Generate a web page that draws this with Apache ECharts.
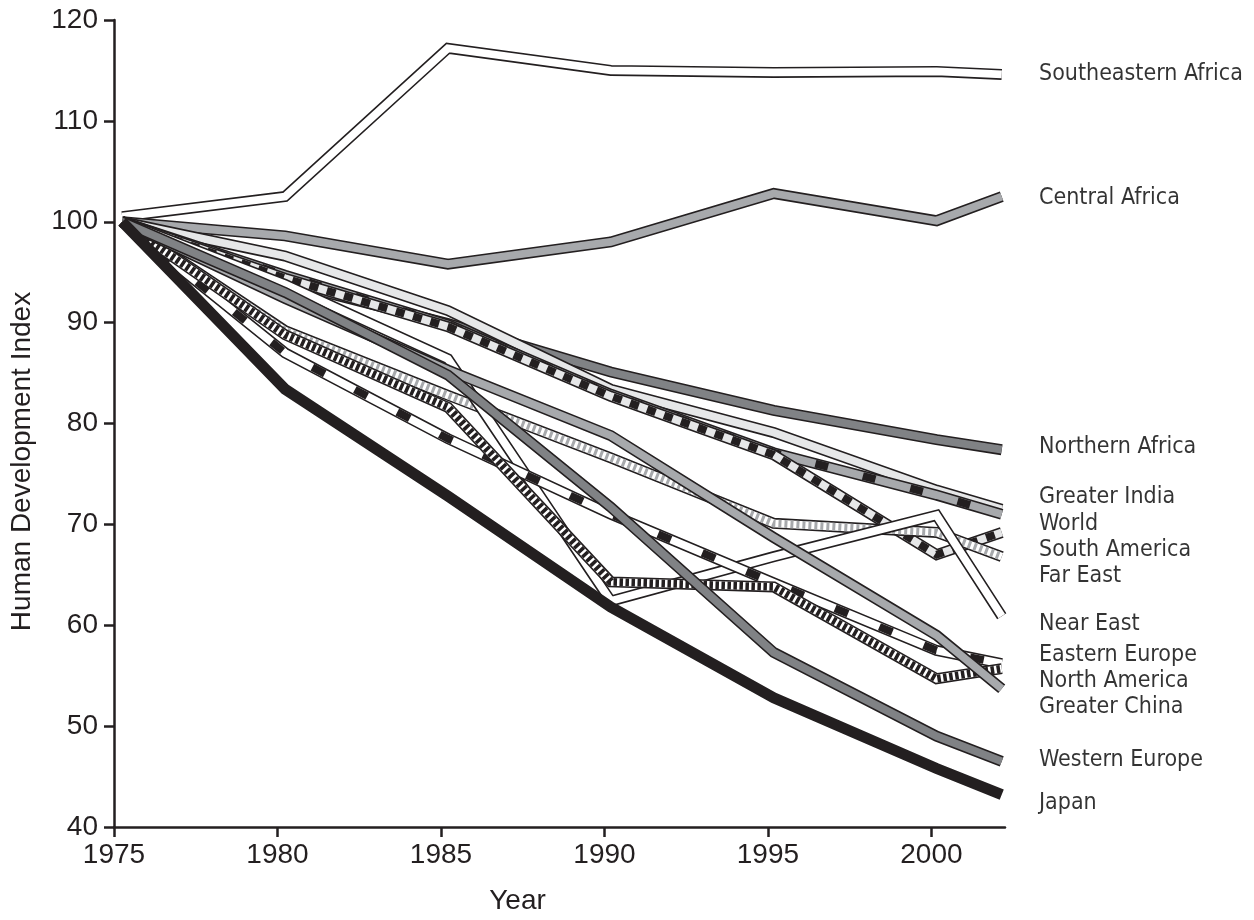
<!DOCTYPE html>
<html>
<head>
<meta charset="utf-8">
<title>Human Development Index</title>
<script src="https://cdn.jsdelivr.net/npm/echarts@6/dist/echarts.min.js"></script>
<style>
    html, body { margin: 0; padding: 0; background: #fff; }
    #chart { width: 1254px; height: 920px; }
</style>
</head>
<body>
<div id="chart"></div>
<script>
// 年份
var years = [1975, 1980, 1985, 1990, 1995, 2000, 2002];

var southeasternAfrica = [100.5, 102.5, 117.2, 115.0, 114.8, 114.9, 114.6];
var centralAfrica = [100, 98.6, 95.8, 98.0, 102.8, 100.1, 102.5];
var northernAfrica = [100, 94.0, 89.9, 85.1, 81.3, 78.4, 77.4];
var greaterIndia = [100, 96.6, 91.2, 83.4, 79.1, 73.4, 71.5];
var world = [100, 94.7, 89.8, 82.9, 77.1, 72.9, 71.0];
var southAmerica = [100, 94.4, 89.6, 82.7, 76.9, 67.0, 69.2];
var farEast = [100, 89.2, 82.8, 76.6, 70.1, 69.2, 66.8];
var nearEast = [100, 93.8, 86.4, 62.4, 66.8, 70.9, 60.9];
var easternEurope = [100, 87.0, 78.5, 71.0, 64.2, 57.5, 56.2];
var northAmerica = [100, 88.8, 81.6, 64.3, 63.8, 54.7, 55.7];
var greaterChina = [100, 92.4, 85.3, 78.8, 68.7, 59.0, 53.7];
var westernEurope = [100, 93.0, 84.8, 71.7, 57.3, 49.0, 46.5];
var japan = [100, 83.4, 72.8, 61.8, 52.8, 45.8, 43.2];

// 右侧标签
var labelNames = ['Southeastern Africa', 'Central Africa', 'Northern Africa', 'Greater India', 'World',
    'South America', 'Far East', 'Near East', 'Eastern Europe', 'North America', 'Greater China',
    'Western Europe', 'Japan'];
var labelValues = [114.6, 102.4, 77.7, 72.7, 70.0, 67.5, 64.9, 60.1, 57.0, 54.5, 51.9, 46.6, 42.4];

var xTicks = [1975, 1980, 1985, 1990, 1995, 2000];

var ink = '#231f20';
var dark = '#808285';
var mid = '#a7a9ac';
var light = '#e6e7e8';
var font = '"Liberation Sans", Arial, sans-serif';

// one band = black outline + fill (+ optional dashed pattern on top)
function band(name, values, fill, dash, dashColor) {
    var data = years.map(function (y, i) { return [y, values[i]]; });
    function layer(color, width, type) {
        return {
            name: name,
            type: 'line',
            xAxisIndex: 1,
            symbol: 'none',
            silent: true,
            animation: false,
            data: data,
            lineStyle: { color: color, width: width, type: type || 'solid', join: 'miter', cap: 'butt' }
        };
    }
    var list = [layer(ink, 11)];
    if (fill) list.push(layer(fill, 7.8));
    if (dash) list.push(layer(dashColor, 7.8, dash));
    return list;
}

var seriesData = [].concat(
    band('Southeastern Africa', southeasternAfrica, '#fff'),
    band('Central Africa', centralAfrica, mid),
    band('Northern Africa', northernAfrica, dark),
    band('Greater India', greaterIndia, light),
    band('World', world, mid, [13, 36], ink),
    band('South America', southAmerica, light, [9, 9], ink),
    band('Far East', farEast, '#fff', [3, 3], mid),
    band('Near East', nearEast, '#fff'),
    band('Eastern Europe', easternEurope, '#fff', [14, 34], ink),
    band('North America', northAmerica, '#fff', [3.5, 2.5], ink),
    band('Greater China', greaterChina, mid),
    band('Western Europe', westernEurope, dark),
    band('Japan', japan, null)
);

seriesData.push({
    name: 'labels',
    type: 'scatter',
    xAxisIndex: 1,
    symbolSize: 0,
    silent: true,
    animation: false,
    data: labelValues.map(function (v) { return [2002.1, v]; }),
    label: {
        show: true,
        position: 'right',
        distance: 34,
        color: '#000',
        fontFamily: '"DejaVu Sans Condensed", "Liberation Sans", sans-serif',
        fontSize: 23,
        formatter: function (p) { return labelNames[p.dataIndex]; }
    }
});

var myChart = echarts.init(document.getElementById('chart'));
var option = {
    backgroundColor: '#fff',
    grid: { left: 113, right: 249, top: 20, bottom: 88, containLabel: false },
    xAxis: [{
        type: 'value',
        min: 1975,
        max: 2002.25,
        name: 'Year',
        nameLocation: 'middle',
        nameGap: 60,
        nameTextStyle: { color: ink, fontSize: 28, fontFamily: font, padding: [0, 84, 0, 0] },
        axisLine: { lineStyle: { color: ink, width: 2.5 } },
        axisTick: { show: true, length: 10, lineStyle: { color: ink, width: 2.5 }, customValues: xTicks },
        axisLabel: {
            color: ink, fontSize: 28, margin: 14, fontFamily: font, customValues: xTicks,
            formatter: function (v) { return String(v); }
        },
        splitLine: { show: false }
    }, {
        type: 'value',
        min: 1974.75,
        max: 2002.1,
        show: false
    }],
    yAxis: {
        type: 'value',
        min: 40,
        max: 120,
        interval: 10,
        name: 'Human Development Index',
        nameLocation: 'middle',
        nameGap: 78,
        nameTextStyle: { color: ink, fontSize: 28, fontFamily: font, padding: [0, 76, 0, 0] },
        axisLine: { show: true, lineStyle: { color: ink, width: 2.5 } },
        axisTick: { show: true, length: 10, lineStyle: { color: ink, width: 2.5 } },
        axisLabel: { color: ink, fontSize: 28, margin: 16, fontFamily: font },
        splitLine: { show: false }
    },
    series: seriesData
};

if (option && typeof option === "object") {
    myChart.setOption(option, true);
    window.onresize = myChart.resize;
}
</script>
</body>
</html>
